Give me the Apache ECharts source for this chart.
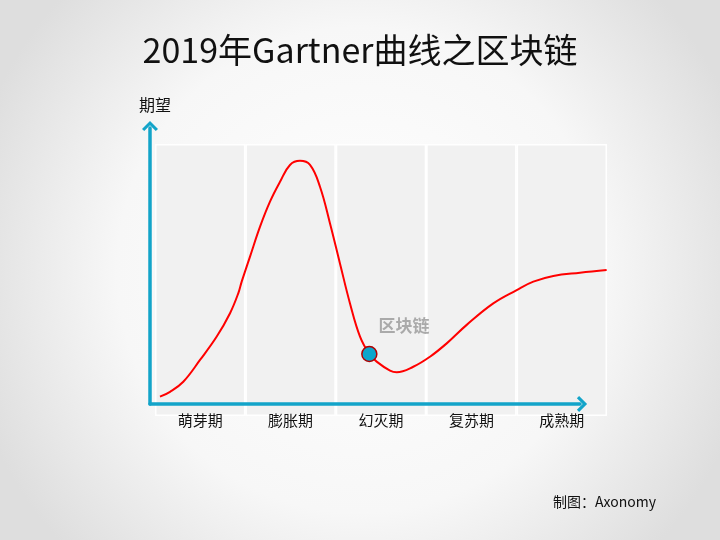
<!DOCTYPE html>
<html><head><meta charset="utf-8">
<script src="https://cdn.jsdelivr.net/npm/echarts@6/dist/echarts.min.js"></script>
<style>html,body{margin:0;padding:0;}#c{width:720px;height:540px;}</style>
</head><body><div id="c"></div>
<script>
const titleText = '2019年Gartner曲线之区块链';
const yAxisName = '期望';
const sourceText = '制图：Axonomy';
const phases = ['萌芽期', '膨胀期', '幻灭期', '复苏期', '成熟期'];
const bandValues = [100, 100, 100, 100, 100];
const curveX = [0.055, 0.166, 0.313, 0.498, 0.683, 0.830, 0.921, 0.959, 1.051, 1.162, 1.272, 1.383, 1.493, 1.604, 1.715, 1.825, 1.936, 2.046, 2.157, 2.268, 2.371, 2.452, 2.600, 2.674, 2.857, 3.042, 3.227, 3.448, 3.742, 4.001, 4.185, 4.406, 4.701, 4.996];
const curveY = [7.1, 8.9, 12.6, 20.6, 29.2, 37.8, 45.1, 49.4, 58.6, 69.6, 78.8, 86.1, 92.3, 93.8, 92.3, 84.3, 70.8, 56.1, 41.4, 29.2, 22.8, 20.0, 16.7, 16.1, 18.1, 21.8, 26.7, 33.5, 41.4, 46.3, 49.4, 51.5, 52.7, 53.7];
const markerPoint = [2.371, 22.8];
const markerLabel = '区块链';

const FONT = 'Noto Sans CJK SC';
const chart = echarts.init(document.getElementById('c'));
const curve = curveX.map((x, i) => [x, curveY[i]]);
const chevron = 'path://M0,9 L9,0 L18,9 L15.5,11.5 L9,5 L2.5,11.5 Z';
chart.setOption({
  animation: false,
  backgroundColor: new echarts.graphic.RadialGradient(0.5, 0.5, 0.75, [
    {offset: 0, color: '#ffffff'}, {offset: 0.6, color: '#f7f7f7'}, {offset: 1, color: '#dedede'}
  ]),
  title: [
    {text: titleText, left: 'center', top: 28, textStyle: {fontFamily: FONT, fontSize: 34, fontWeight: 'normal', color: '#111'}},
    {text: yAxisName, left: 134, top: 92, textStyle: {fontFamily: FONT, fontSize: 16, fontWeight: 'normal', color: '#111'}},
    {text: sourceText, left: 548, top: 490, textStyle: {fontFamily: FONT, fontSize: 14, fontWeight: 'normal', color: '#111'}}
  ],
  grid: [
    {left: 155, right: 113, top: 144, bottom: 124},
    {left: 150, right: 140, top: 128, bottom: 136}
  ],
  xAxis: [
    {type: 'category', gridIndex: 0, data: phases, z: 10, axisLine: {show: false}, axisTick: {show: false},
     axisLabel: {margin: -3, fontFamily: FONT, fontSize: 15, color: '#111'}},
    {type: 'value', gridIndex: 0, min: 0, max: 5, show: false},
    {type: 'value', gridIndex: 1, min: 0, max: 1, z: 10, axisLabel: {show: false}, axisTick: {show: false}, splitLine: {show: false},
     axisLine: {show: true, symbol: ['none', chevron], symbolSize: [16, 11], symbolOffset: [0, 2], lineStyle: {color: '#13a4c9', width: 3.5}}}
  ],
  yAxis: [
    {type: 'value', gridIndex: 0, min: 0, max: 100, show: false},
    {type: 'value', gridIndex: 1, min: 0, max: 1, z: 10, axisLabel: {show: false}, axisTick: {show: false}, splitLine: {show: false},
     axisLine: {show: true, symbol: ['none', chevron], symbolSize: [16, 11], symbolOffset: [0, 2], lineStyle: {color: '#13a4c9', width: 3.5}}}
  ],
  series: [
    {type: 'bar', xAxisIndex: 0, yAxisIndex: 0, data: bandValues, barCategoryGap: 0, silent: true, z: 1,
     itemStyle: {color: '#f1f1f1', borderColor: '#ffffff', borderWidth: 1.5}},
    {type: 'line', xAxisIndex: 1, yAxisIndex: 0, data: curve, smooth: 0.4, showSymbol: false, z: 5,
     lineStyle: {color: '#ff0000', width: 2}},
    {type: 'scatter', xAxisIndex: 1, yAxisIndex: 0, data: [markerPoint], symbolSize: 15, z: 6,
     itemStyle: {color: '#0ba6cc', borderColor: '#b00000', borderWidth: 1.5, opacity: 1},
     label: {show: true, formatter: markerLabel, position: 'right', offset: [-4, -28],
       fontFamily: FONT, fontSize: 17, fontWeight: 'bold', color: '#aaaaaa'}}
  ]
});
</script></body></html>
